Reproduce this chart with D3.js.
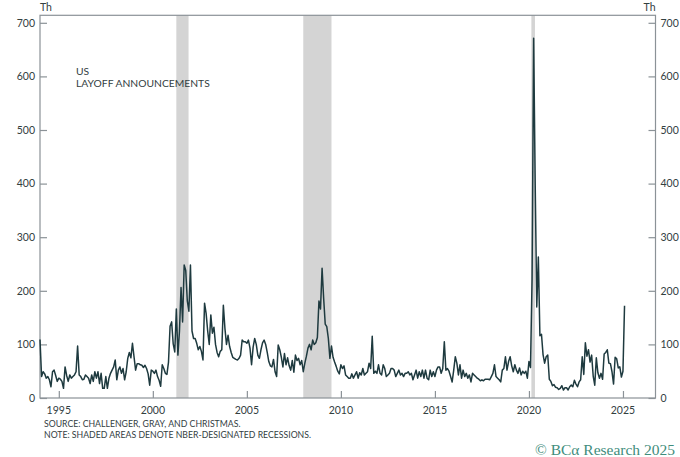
<!DOCTYPE html>
<html>
<head>
<meta charset="utf-8">
<script src="https://cdn.jsdelivr.net/npm/d3@7"></script>
<style>
  body { margin: 0; background: #fff; }
  svg text { font-family: Lato, "Open Sans", sans-serif; }
</style>
</head>
<body>
<div id="chart"></div>
<script>
// monthly job cut announcements, thousands, Jan 1994 onwards
var cuts1994to1998 = [
  109, 40, 49, 45, 37, 40, 34, 21, 49, 52, 42, 31,
  37, 35, 31, 18, 58, 42, 31, 43, 37, 40, 43, 49,
  97, 43, 40, 34, 35, 43, 40, 37, 27, 43, 31, 49,
  37, 49, 27, 46, 18, 18, 40, 18, 37, 46, 52, 58,
  71, 34, 52, 58, 46, 55, 34, 49, 74, 85, 75, 102
];
var cuts1999to2003 = [
  77, 52, 64, 64, 62, 61, 57, 61, 55, 45, 24, 52,
  50, 46, 52, 40, 33, 22, 62, 55, 46, 44, 67, 134,
  142, 101, 86, 166, 80, 125, 206, 142, 248, 238, 181, 162,
  248, 125, 111, 111, 102, 90, 96, 87, 71, 177, 158, 125,
  100, 155, 121, 132, 100, 85, 77, 87, 90, 173, 130, 100
];
var cuts2004to2008 = [
  117, 96, 85, 76, 74, 72, 71, 74, 80, 108, 105, 105,
  102, 108, 93, 62, 95, 111, 100, 80, 74, 90, 103, 108,
  100, 85, 68, 60, 58, 72, 49, 40, 99, 90, 76, 58,
  83, 62, 75, 60, 52, 70, 48, 80, 70, 74, 62, 70,
  49, 65, 78, 93, 100, 90, 108, 100, 103, 113, 181, 166
];
var cuts2009to2013 = [
  242, 186, 138, 133, 111, 74, 97, 76, 67, 59, 50, 45,
  62, 55, 60, 43, 40, 37, 37, 45, 37, 43, 49, 37,
  47, 43, 55, 43, 46, 49, 65, 55, 115, 46, 50, 46,
  62, 46, 43, 62, 55, 40, 43, 46, 55, 55, 52, 40,
  46, 52, 43, 46, 40, 46, 46, 49, 43, 46, 34, 43
];
var cuts2014to2018 = [
  52, 37, 49, 40, 52, 37, 52, 37, 34, 52, 40, 49,
  40, 52, 58, 58, 46, 55, 105, 52, 55, 50, 40, 30,
  52, 77, 65, 43, 62, 37, 52, 40, 46, 37, 43, 30,
  46, 43, 40, 37, 35, 32, 34, 32, 35, 35, 35, 34,
  40, 46, 62, 40, 37, 34, 30, 52, 55, 77, 52, 68
];
var cuts2019to2025 = [
  77, 60, 49, 62, 52, 46, 56, 43, 50, 46, 50, 37,
  68, 57, 222, 671, 397, 170, 263, 116, 119, 81, 65, 77,
  80, 35, 31, 23, 25, 20, 19, 16, 18, 23, 15, 19,
  19, 15, 21, 24, 21, 33, 26, 21, 30, 34, 77, 44,
  103, 78, 90, 67, 80, 41, 24, 75, 47, 37, 46, 35,
  82, 85, 90, 65, 64, 49, 26, 76, 73, 56, 58, 39,
  50, 172
];
var firstYear = 1994;

// NBER recessions as [start, end] in fractional years
var recessions = [[2001.25, 2001.9], [2008.0, 2009.5], [2020.13, 2020.32]];
var yTicks = [0, 100, 200, 300, 400, 500, 600, 700];
var xTicks = [1995, 2000, 2005, 2010, 2015, 2020, 2025];

var allCuts = cuts1994to1998.concat(cuts1999to2003, cuts2004to2008,
  cuts2009to2013, cuts2014to2018, cuts2019to2025);
var data = allCuts.map(function(v, i) {
  return { t: firstYear + i / 12, v: v };
});

var width = 680, height = 457;
// plot box (plotTop, not top: window.top is read only)
var plotLeft = 40, plotRight = 655.5, plotTop = 15.3, plotBottom = 398;
var axisColor = "#8b9297";
var textColor = "#33403f";

var svg = d3.select("#chart")
  .append("svg")
  .attr("width", width)
  .attr("height", height);

var x = d3.scaleLinear().domain([1994, 2026.73]).range([plotLeft, plotRight]);
var y = d3.scaleLinear().domain([0, 700]).range([plotBottom, 22.8]);

// recession shading
svg.selectAll(".rec")
  .data(recessions)
  .enter().append("rect")
  .attr("class", "rec")
  .attr("x", function(d) { return x(d[0]); })
  .attr("width", function(d) { return x(d[1]) - x(d[0]); })
  .attr("y", plotTop)
  .attr("height", plotBottom - plotTop)
  .style("fill", "#d4d4d4");

// frame
svg.append("rect")
  .attr("x", plotLeft)
  .attr("y", plotTop)
  .attr("width", plotRight - plotLeft)
  .attr("height", plotBottom - plotTop)
  .style("fill", "none")
  .style("stroke", axisColor)
  .style("stroke-width", 1.2);

// axes, ticks pointing inward
var yLeft = svg.append("g")
  .attr("transform", "translate(" + plotLeft + ",0)")
  .call(d3.axisRight(y).tickValues(yTicks).tickSize(7).tickFormat(""));
var yRight = svg.append("g")
  .attr("transform", "translate(" + plotRight + ",0)")
  .call(d3.axisLeft(y).tickValues(yTicks).tickSize(7).tickFormat(""));
var xBottom = svg.append("g")
  .attr("transform", "translate(0," + plotBottom + ")")
  .call(d3.axisTop(x).tickValues(xTicks).tickSize(7).tickFormat(""));

[yLeft, yRight, xBottom].forEach(function(g) {
  g.select(".domain").remove();
  g.selectAll("line").style("stroke", axisColor).style("stroke-width", 1.2);
});

// tick labels
svg.selectAll(".ylabL")
  .data(yTicks)
  .enter().append("text")
  .attr("x", plotLeft - 5)
  .attr("y", function(d) { return y(d) + 3.8; })
  .attr("text-anchor", "end")
  .style("font-size", "10.5px")
  .style("fill", textColor)
  .text(function(d) { return d; });

svg.selectAll(".ylabR")
  .data(yTicks)
  .enter().append("text")
  .attr("x", plotRight + 5)
  .attr("y", function(d) { return y(d) + 3.8; })
  .attr("text-anchor", "start")
  .style("font-size", "10.5px")
  .style("fill", textColor)
  .text(function(d) { return d; });

svg.selectAll(".xlab")
  .data(xTicks)
  .enter().append("text")
  .attr("x", function(d) { return x(d); })
  .attr("y", 414)
  .attr("text-anchor", "middle")
  .style("font-size", "10.5px")
  .style("fill", textColor)
  .text(function(d) { return d; });

// units
svg.append("text").attr("x", plotLeft).attr("y", 10.5)
  .style("font-size", "10.5px").style("fill", textColor).text("Th");
svg.append("text").attr("x", plotRight).attr("y", 10.5).attr("text-anchor", "end")
  .style("font-size", "10.5px").style("fill", textColor).text("Th");

// the series
var line = d3.line()
  .x(function(d) { return x(d.t); })
  .y(function(d) { return y(d.v); });

svg.append("path")
  .datum(data)
  .attr("d", line)
  .style("fill", "none")
  .style("stroke", "#1e3a3f")
  .style("stroke-width", 1.5)
  .style("stroke-linejoin", "round");

// title
svg.append("text").attr("x", 76).attr("y", 75)
  .style("font-size", "10.3px").style("fill", textColor).text("US");
svg.append("text").attr("x", 76).attr("y", 87)
  .style("font-size", "10.3px").style("fill", textColor)
  .text("LAYOFF ANNOUNCEMENTS");

// notes
svg.append("text").attr("x", 44).attr("y", 427)
  .style("font-size", "8.7px").style("fill", textColor)
  .text("SOURCE: CHALLENGER, GRAY, AND CHRISTMAS.");
svg.append("text").attr("x", 44).attr("y", 438)
  .style("font-size", "8.7px").style("fill", textColor)
  .text("NOTE: SHADED AREAS DENOTE NBER-DESIGNATED RECESSIONS.");

svg.append("text").attr("x", 675).attr("y", 455)
  .attr("text-anchor", "end")
  .style("font-family", "'Liberation Serif', serif")
  .style("font-size", "15.5px")
  .style("fill", "#3f8d7c")
  .text("© BCα Research 2025");
</script>
</body>
</html>
